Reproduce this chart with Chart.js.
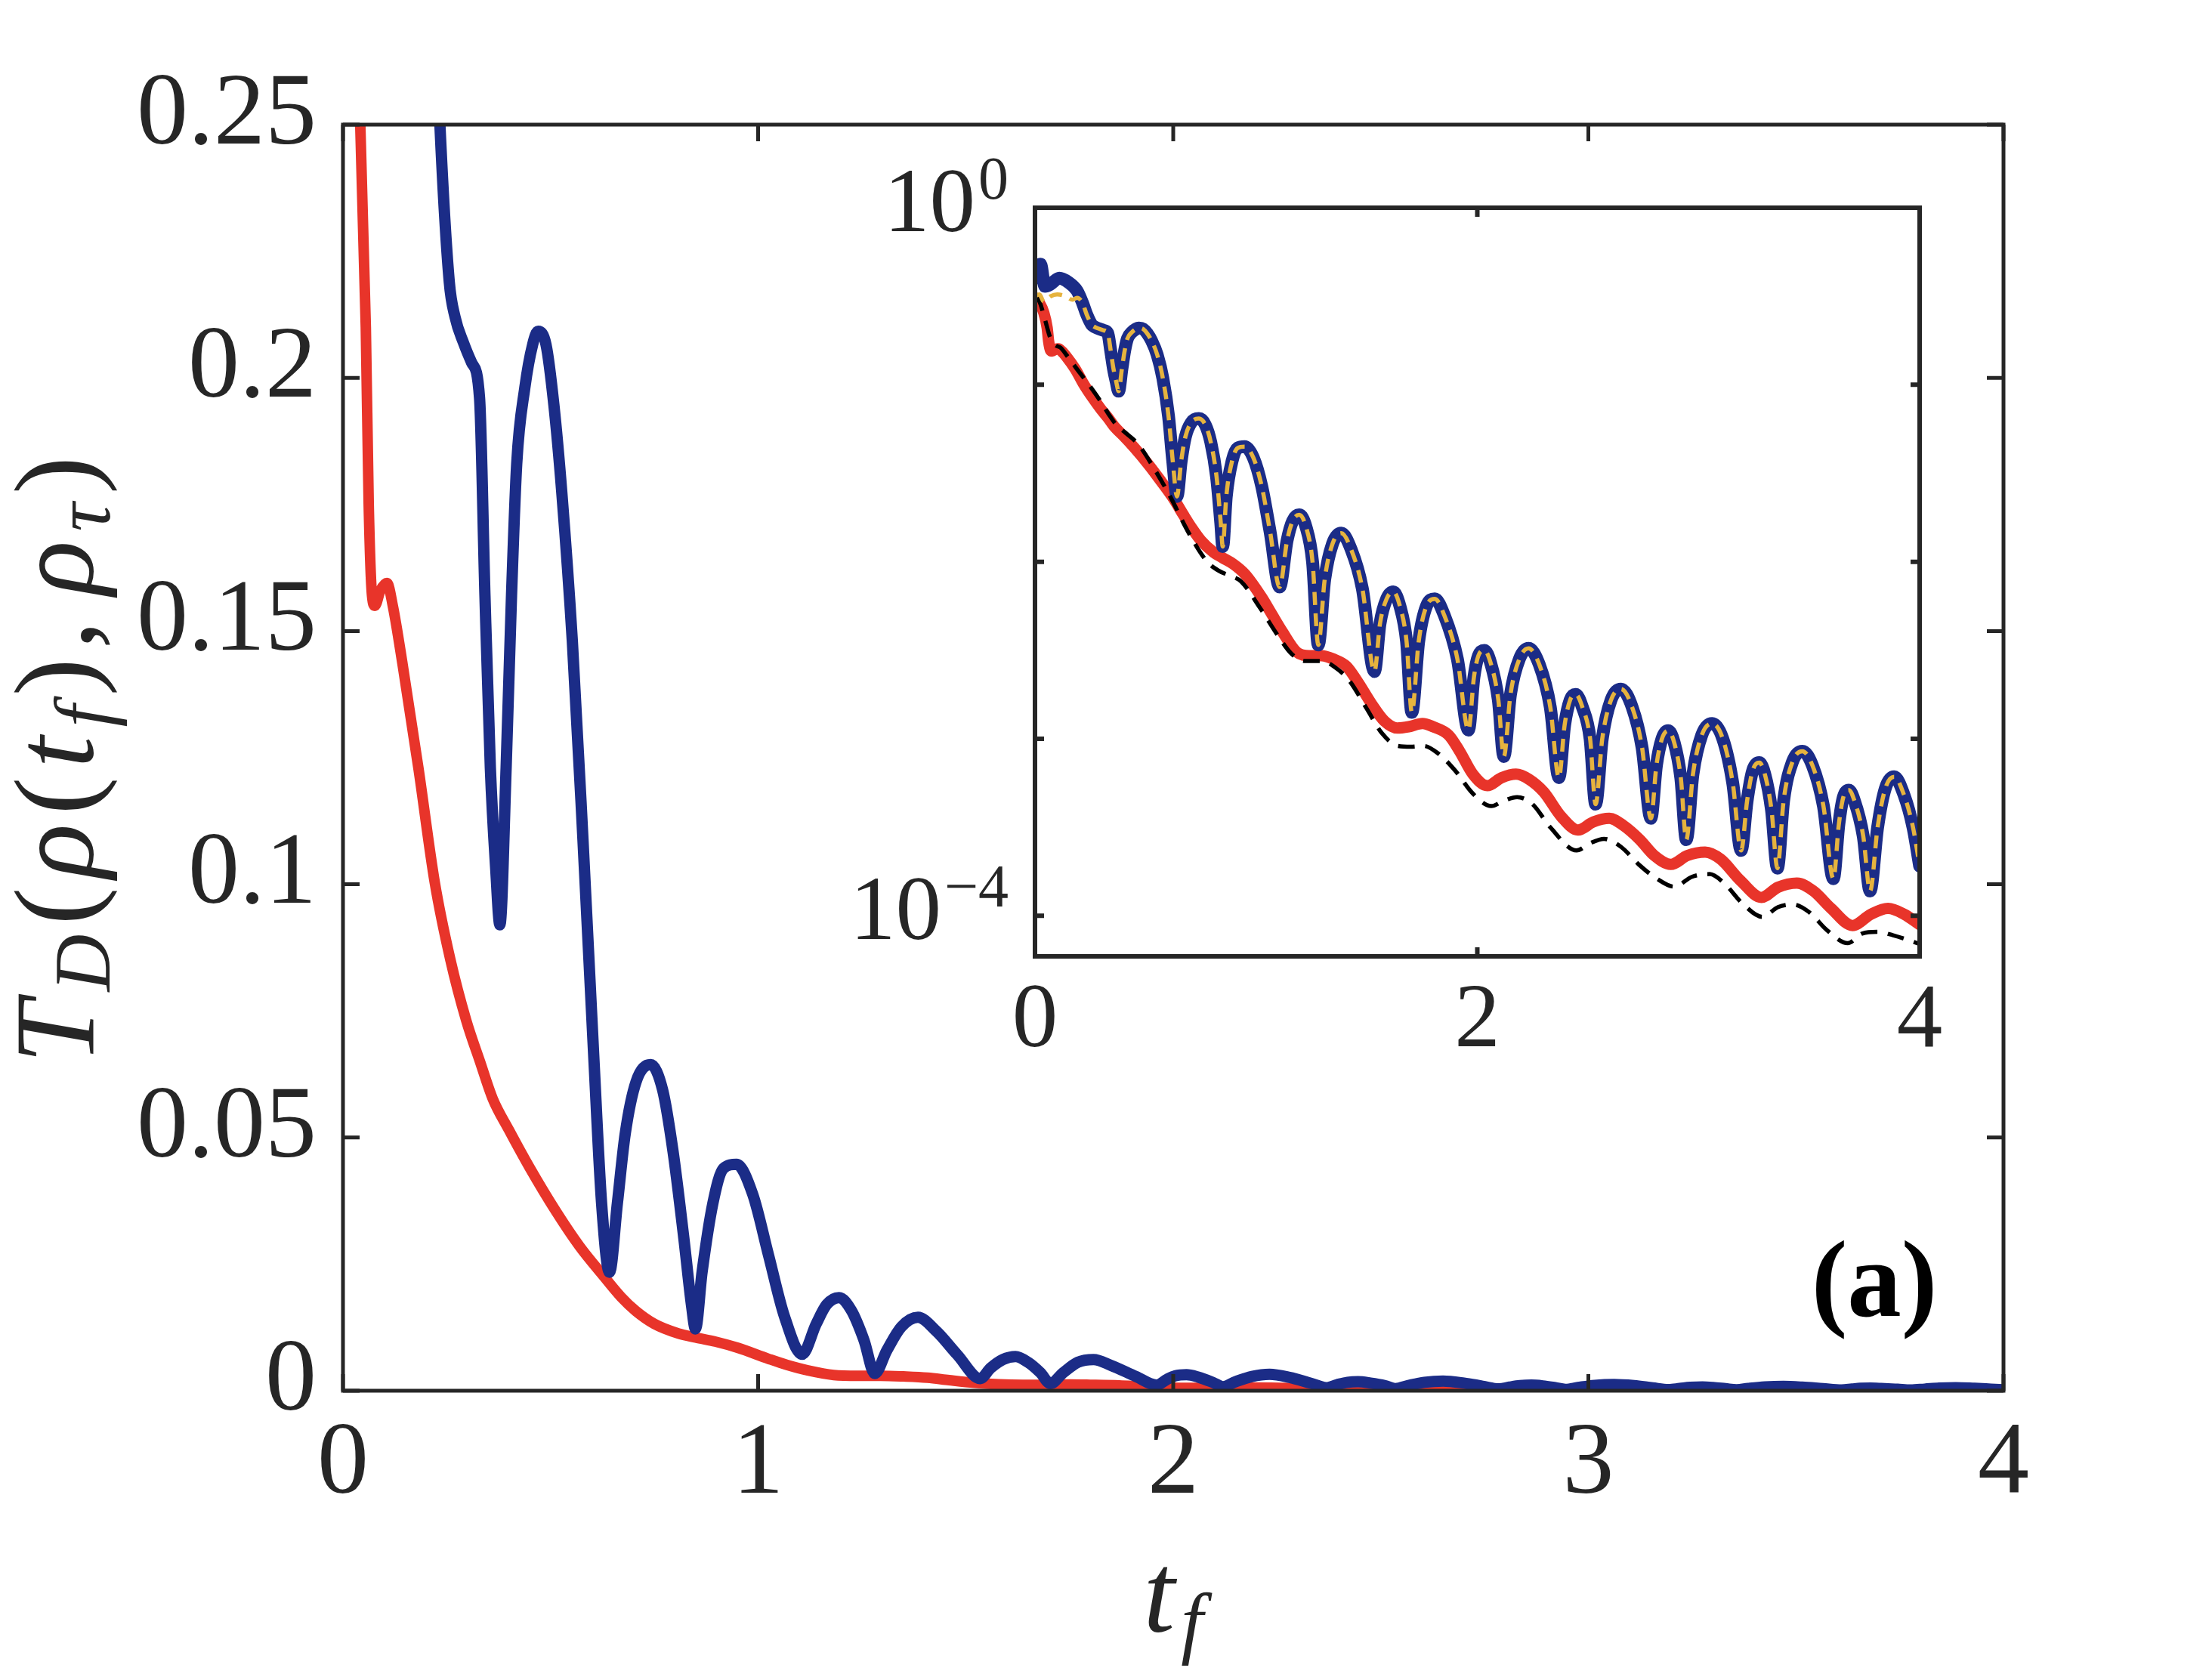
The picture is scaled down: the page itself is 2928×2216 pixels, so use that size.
<!DOCTYPE html>
<html><head><meta charset="utf-8">
<script src="https://cdn.jsdelivr.net/npm/chart.js@4.4.0/dist/chart.umd.min.js"></script>
<style>
html,body{margin:0;padding:0;background:#fff;}
#wrap{position:relative;width:2928px;height:2216px;}
canvas{position:absolute;left:0;top:0;}
</style></head><body>
<div id="wrap"><canvas id="main" width="2928" height="2216"></canvas><canvas id="inset" width="2928" height="2216"></canvas></div>
<script>
// ---------- data ----------
const tBlue = [0,0.012,0.025,0.045,0.07,0.11,0.15,0.19,0.215,0.2335,0.256,0.27,0.29,0.31,0.329,0.342,0.355,0.368,0.378,0.393,0.406,0.4185,0.438,0.457,0.47,0.489,0.508,0.527,0.5525,0.578,0.604,0.623,0.642,0.661,0.68,0.706,0.741,0.77,0.795,0.821,0.84,0.849,0.865,0.891,0.9165,0.948,0.987,1.025,1.063,1.106,1.14,1.165,1.195,1.225,1.255,1.281,1.31,1.345,1.385,1.43,1.48,1.535,1.56,1.59,1.62,1.65,1.68,1.704,1.735,1.77,1.808,1.85,1.91,1.96,1.985,2.005,2.032,2.06,2.095,2.12,2.15,2.19,2.232,2.28,2.33,2.369,2.395,2.42,2.445,2.475,2.51,2.535,2.565,2.605,2.65,2.7,2.745,2.785,2.81,2.835,2.863,2.89,2.92,2.945,2.975,3.015,3.062,3.11,3.155,3.193,3.22,3.245,3.275,3.3,3.33,3.357,3.385,3.425,3.47,3.515,3.565,3.61,3.635,3.655,3.68,3.705,3.745,3.776,3.81,3.845,3.885,3.93,3.97,4.0];
const vBlue = [0.40,0.45,0.48,0.36,0.37,0.40,0.38,0.34,0.29,0.25,0.219,0.212,0.207,0.203,0.196,0.157,0.123,0.103,0.092,0.123,0.157,0.183,0.198,0.2066,0.2092,0.2066,0.1947,0.1775,0.148,0.109,0.0662,0.037,0.0234,0.037,0.0508,0.061,0.0644,0.0594,0.0473,0.0302,0.0166,0.0122,0.0234,0.037,0.0439,0.0447,0.0388,0.0268,0.0148,0.0072,0.0132,0.0170,0.0184,0.0158,0.0100,0.00339,0.00794,0.0126,0.0145,0.0117,0.00708,0.0024,0.00447,0.00617,0.00676,0.00562,0.00355,0.00141,0.00355,0.00562,0.00617,0.00501,0.00282,0.00112,0.00224,0.00295,0.00316,0.00269,0.00166,0.000794,0.00178,0.00282,0.00324,0.00263,0.00151,0.000603,0.0012,0.00166,0.00178,0.00151,0.001,0.000427,0.001,0.00166,0.00191,0.00151,0.000891,0.000355,0.000708,0.001,0.00111,0.000955,0.000603,0.000269,0.000631,0.00105,0.00122,0.001,0.000562,0.000234,0.000447,0.000661,0.000733,0.000631,0.000398,0.000186,0.000447,0.000741,0.000851,0.000708,0.000417,0.000162,0.000331,0.000468,0.000513,0.000447,0.000282,0.000138,0.000316,0.000525,0.00061,0.000479,0.000316,0.000191];

const tRed = [0,0.02,0.04,0.055,0.062,0.07,0.077,0.09,0.106,0.12,0.144,0.182,0.221,0.259,0.297,0.33,0.361,0.399,0.45,0.514,0.57,0.629,0.67,0.706,0.75,0.808,0.85,0.897,0.95,1.025,1.069,1.12,1.182,1.24,1.295,1.35,1.408,1.46,1.521,1.58,1.638,1.69,1.752,1.8,1.87,1.92,1.98,2.045,2.11,2.175,2.235,2.3,2.38,2.455,2.525,2.597,2.66,2.735,2.8,2.875,2.95,3.03,3.1,3.19,3.285,3.36,3.445,3.52,3.6,3.697,3.78,3.857,3.93,4.0];
const vRed = [0.31,0.29,0.255,0.21,0.175,0.157,0.155,0.158,0.1595,0.155,0.1432,0.1228,0.1004,0.085,0.0731,0.065,0.0576,0.0516,0.044,0.0353,0.0285,0.0225,0.0185,0.0157,0.0132,0.0113,0.0105,0.0097,0.0085,0.0063,0.0051,0.0040,0.0031,0.00295,0.00295,0.00282,0.00257,0.00209,0.00158,0.00126,0.00115,0.00117,0.00122,0.00117,0.00105,0.000851,0.000631,0.000543,0.000603,0.000631,0.000589,0.000501,0.000363,0.000305,0.000339,0.000355,0.000324,0.000269,0.000219,0.000195,0.000219,0.000229,0.000209,0.000158,0.000127,0.000145,0.000153,0.000138,0.00011,0.0000881,0.000102,0.00011,0.000102,0.0000891];

const tBlack = [0,0.02,0.045,0.068,0.09,0.116,0.15,0.189,0.25,0.3,0.335,0.37,0.408,0.469,0.542,0.615,0.688,0.773,0.83,0.883,0.931,1.017,1.1,1.16,1.22,1.295,1.35,1.42,1.5,1.57,1.64,1.7,1.756,1.82,1.9,1.98,2.063,2.12,2.18,2.25,2.33,2.449,2.51,2.573,2.65,2.73,2.812,2.891,2.97,3.051,3.12,3.2,3.289,3.36,3.425,3.5,3.58,3.675,3.74,3.811,3.88,3.958,4.0];
const vBlack = [0.316,0.295,0.234,0.186,0.168,0.162,0.143,0.123,0.0977,0.0794,0.0676,0.0589,0.0537,0.0457,0.0331,0.0229,0.0151,0.0102,0.00891,0.00832,0.00776,0.0055,0.0038,0.00302,0.00275,0.00275,0.00257,0.00214,0.00148,0.00107,0.000912,0.000902,0.000912,0.000832,0.000661,0.00049,0.000417,0.000447,0.000468,0.000427,0.000316,0.000234,0.000257,0.000272,0.000245,0.000195,0.000162,0.000146,0.000166,0.000172,0.000151,0.000117,0.0000986,0.000112,0.000116,0.000105,0.0000832,0.00007,0.0000794,0.0000811,0.0000776,0.0000723,0.0000692];

// dashed yellow: differs from blue only at the very start, then lies on the blue curve
const tYellowHead = [0,0.02,0.04,0.07,0.10,0.14,0.17,0.19];
const vYellowHead = [0.316,0.324,0.295,0.316,0.324,0.316,0.302,0.31];

// ---------- ticks ----------
const mainXTicks = [0,1,2,3,4];
const mainXLabels = ['0','1','2','3','4'];
const mainYTicks = [0,0.05,0.1,0.15,0.2,0.25];
const mainYLabels = ['0','0.05','0.1','0.15','0.2','0.25'];
const insetXTicks = [0,2,4];
const insetXLabels = ['0','2','4'];
const insetYTicks = [1e-4,1e-3,1e-2,1e-1,1];
const insetYLabelTicks = [1,1e-4];
const insetYLabelExps = ['0','\u22124'];

// ---------- styles ----------
const AX = '#262626';
const BLUE = '#1b2c87';
const RED = '#e8342a';
const YEL = '#e6b33e';
const FF = '"Liberation Serif", "Times New Roman", serif';

function pts(ts, vs){ return ts.map((t,i)=>({x:t, y:vs[i]})); }
const startIdx = tBlue.indexOf(0.215);
const tYellow = tYellowHead.concat(tBlue.slice(startIdx));
const vYellow = vYellowHead.concat(vBlue.slice(startIdx));

function framePlugin(id, tickLen, lw, xT, yT){
  return {
    id,
    afterDatasetsDraw(chart){
      const {ctx, chartArea:a, scales:{x,y}} = chart;
      ctx.save();
      ctx.strokeStyle = AX; ctx.lineWidth = lw; ctx.lineCap = 'butt';
      ctx.beginPath();
      xT.forEach(v=>{ const px=x.getPixelForValue(v);
        ctx.moveTo(px,a.bottom); ctx.lineTo(px,a.bottom-tickLen);
        ctx.moveTo(px,a.top); ctx.lineTo(px,a.top+tickLen); });
      yT.forEach(v=>{ const py=y.getPixelForValue(v);
        ctx.moveTo(a.left,py); ctx.lineTo(a.left+tickLen,py);
        ctx.moveTo(a.right,py); ctx.lineTo(a.right-tickLen,py); });
      ctx.stroke();
      ctx.strokeRect(a.left,a.top,a.right-a.left,a.bottom-a.top);
      ctx.restore();
    }
  };
}

function runsWidth(ctx, runs){
  let w=0; runs.forEach(r=>{ctx.font=r.f; w+=ctx.measureText(r.s).width+(r.extra||0);}); return w;
}
function drawRuns(ctx, runs, x0, y0, gap){
  let x=x0;
  runs.forEach(r=>{ ctx.font=r.f; ctx.fillText(r.s, x, y0+(r.dy||0)); x+=ctx.measureText(r.s).width+gap+(r.extra||0); });
}

const titlesPlugin = {
  id:'titles',
  afterDraw(chart){
    const ctx = chart.ctx, a = chart.chartArea;
    ctx.save();
    ctx.fillStyle = AX; ctx.textBaseline = 'alphabetic'; ctx.textAlign='left';
    const I = `italic 150px ${FF}`, IS = `italic 105px ${FF}`, N = `150px ${FF}`;
    // x title t_f
    const xr = [{s:'t',f:I},{s:'f',f:IS,dy:22}];
    const xw = runsWidth(ctx,xr)+8;
    drawRuns(ctx, xr, (a.left+a.right)/2 - xw/2, 2160, 8);
    // y title T_D(rho(t_f), rho_tau)
    const yr = [{s:'T',f:I},{s:'D',f:IS,dy:22},{s:'(',f:N},{s:'\u03C1',f:I},{s:'(',f:N},{s:'t',f:I},{s:'f',f:IS,dy:22},{s:')',f:N},{s:',',f:N,extra:22},{s:'\u03C1',f:I},{s:'\u03C4',f:IS,dy:22},{s:')',f:N}];
    const nat = runsWidth(ctx,yr);
    const target = 804;
    const gap = Math.max(0,(target-nat)/(yr.length-1));
    const total = nat + gap*(yr.length-1);
    ctx.translate(123, 1006);
    ctx.rotate(-Math.PI/2);
    drawRuns(ctx, yr, -total/2, 0, gap);
    ctx.restore();
    // panel label
    ctx.save();
    ctx.fillStyle='#000'; ctx.font = `bold 143px ${FF}`; ctx.textAlign='center'; ctx.textBaseline='alphabetic';
    ctx.fillText('(a)', 2481, 1742);
    ctx.restore();
  }
};

const common = {
  responsive:false, devicePixelRatio:1, animation:false, events:[],
  plugins:{legend:{display:false}, tooltip:{enabled:false}},
  elements:{point:{radius:0}, line:{cubicInterpolationMode:'monotone', borderCapStyle:'round', borderJoinStyle:'round', fill:false}}
};

// ---------- main chart ----------
new Chart(document.getElementById('main'), {
  type:'line',
  data:{datasets:[
    {data:pts(tBlue,vBlue), borderColor:BLUE, borderWidth:15, order:1, clip:0},
    {data:pts(tRed,vRed), borderColor:RED, borderWidth:14, order:2, clip:0}
  ]},
  options:Object.assign({}, common, {
    layout:{padding:{left:0,right:276,top:165,bottom:0}},
    scales:{
      x:{type:'linear', min:0, max:4,
        afterBuildTicks:s=>{ s.ticks = mainXTicks.map(v=>({value:v})); },
        afterFit:s=>{ s.height = 375; },
        grid:{display:false, drawTicks:false}, border:{display:false},
        ticks:{autoSkip:false, maxRotation:0, color:AX, padding:18, font:{family:FF, size:136},
          callback:(v,i)=>mainXLabels[i]}},
      y:{type:'linear', min:0, max:0.25,
        afterBuildTicks:s=>{ s.ticks = mainYTicks.map(v=>({value:v})); },
        afterFit:s=>{ s.width = 454; },
        grid:{display:false, drawTicks:false}, border:{display:false},
        ticks:{autoSkip:false, color:AX, padding:35, labelOffset:-11, font:{family:FF, size:136},
          callback:(v,i)=>mainYLabels[i]}}
    }
  }),
  plugins:[framePlugin('frameMain', 22, 5, mainXTicks, mainYTicks), titlesPlugin]
});

// ---------- inset chart ----------
const insetBg = {
  id:'insetBg',
  beforeDatasetsDraw(chart){
    const {ctx, chartArea:a} = chart;
    ctx.save(); ctx.fillStyle='#fff'; ctx.fillRect(a.left,a.top,a.right-a.left,a.bottom-a.top); ctx.restore();
  }
};
const insetYLabels = {
  id:'insetYLabels',
  afterDraw(chart){
    const {ctx, chartArea:a, scales:{y}} = chart;
    ctx.save(); ctx.fillStyle=AX; ctx.textBaseline='alphabetic'; ctx.textAlign='right';
    insetYLabelTicks.forEach((v,i)=>{
      const py = y.getPixelForValue(v);
      const xr = a.left - 35;
      ctx.font = `80px ${FF}`;
      const ew = ctx.measureText(insetYLabelExps[i]).width;
      ctx.fillText(insetYLabelExps[i], xr, py - 12);
      ctx.font = `121px ${FF}`;
      ctx.fillText('10', xr - ew - 4, py + 31);
    });
    ctx.restore();
  }
};

new Chart(document.getElementById('inset'), {
  type:'line',
  data:{datasets:[
    {data:pts(tYellow,vYellow), borderColor:YEL, borderWidth:5.5, borderDash:[17,11], borderCapStyle:'butt', order:0, clip:0},
    {data:pts(tBlack,vBlack), borderColor:'#000', borderWidth:5.5, borderDash:[22,14], borderCapStyle:'butt', order:1, clip:0},
    {data:pts(tBlue,vBlue), borderColor:BLUE, borderWidth:17, order:2, clip:0},
    {data:pts(tRed,vRed), borderColor:RED, borderWidth:15, order:3, clip:0}
  ]},
  options:Object.assign({}, common, {
    layout:{padding:{left:0,right:387,top:275,bottom:0}},
    scales:{
      x:{type:'linear', min:0, max:4,
        afterBuildTicks:s=>{ s.ticks = insetXTicks.map(v=>({value:v})); },
        afterFit:s=>{ s.height = 950; },
        grid:{display:false, drawTicks:false}, border:{display:false},
        ticks:{autoSkip:false, maxRotation:0, color:AX, padding:15, font:{family:FF, size:121},
          callback:(v,i)=>insetXLabels[i]}},
      y:{type:'logarithmic', min:5.9e-5, max:1,
        afterBuildTicks:s=>{ s.ticks = insetYTicks.map(v=>({value:v})); },
        afterFit:s=>{ s.width = 1370; },
        grid:{display:false, drawTicks:false}, border:{display:false},
        ticks:{display:false}}
    }
  }),
  plugins:[insetBg, framePlugin('frameInset', 12, 6, insetXTicks, insetYTicks), insetYLabels]
});
</script>
</body></html>
